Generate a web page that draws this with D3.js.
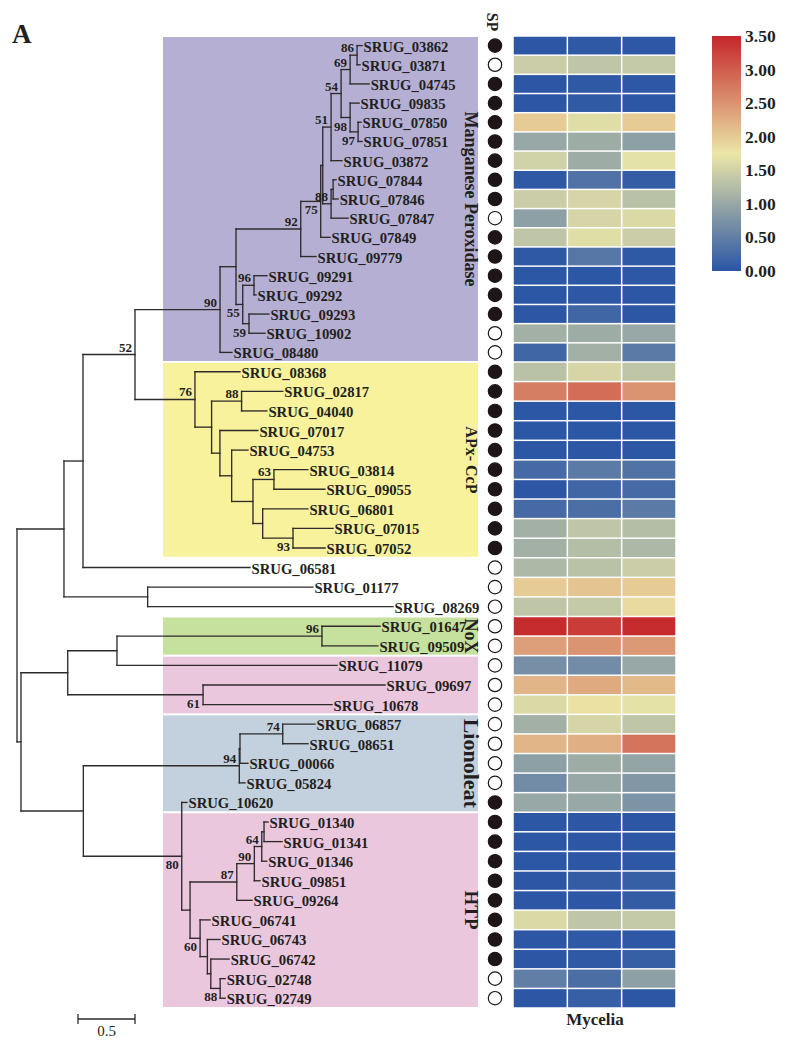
<!DOCTYPE html>
<html><head><meta charset="utf-8">
<script src="https://cdnjs.cloudflare.com/ajax/libs/d3/7.8.5/d3.min.js"></script>
<style>
body{margin:0;background:#fff}
text{font-family:"Liberation Serif","Times New Roman",serif;fill:#231f20}
</style>
</head><body>
<svg id="chart" width="791" height="1044"></svg>
<script>
// ---------------- DATA ----------------
// Phylogeny (Newick, internal names = bootstrap support, lengths = substitutions/site)
const treeNewick = `
(
 (
  (
   (
    (((((((((SRUG_03862:0.044,SRUG_03871:0.026)86:0.061,SRUG_04745:0.167)69:0.079,
         (SRUG_09835:0.079,(SRUG_07850:0.026,SRUG_07851:0.035)97:0.070)98:0.079)54:0.088,
        SRUG_03872:0.096)51:0.073,
       ((SRUG_07844:0.026,SRUG_07846:0.044):0.018,SRUG_07847:0.149)88:0.073):0.018,
      SRUG_07849:0.082)75:0.175,
     SRUG_09779:0.134)92:0.568,
     ((SRUG_09291:0.114,SRUG_09292:0.018)96:0.099,(SRUG_09293:0.175,SRUG_10902:0.140)59:0.055)55:0.059
    ):0.140,
    SRUG_08480:0.105)90:0.746,
    (SRUG_08368:0.395,
     ((SRUG_02817:0.362,SRUG_04040:0.222)88:0.263,
      (SRUG_07017:0.333,
       (SRUG_04753:0.143,
        ((SRUG_03814:0.298,SRUG_09055:0.447)63:0.184,
         (SRUG_06801:0.397,(SRUG_07015:0.351,SRUG_07052:0.281)93:0.266):0.085
        ):0.187
       ):0.103
      ):0.073
     ):0.146
    )76:0.526
   )52:0.456,
   SRUG_06581:1.465
  ):0.167,
  (SRUG_01177:1.450,SRUG_08269:2.152):0.734
 ):0.412,
 (
  (
   ((SRUG_01647:0.509,SRUG_09509:0.491)96:1.798,SRUG_11079:1.930):0.432,
   (SRUG_09697:1.596,SRUG_10678:1.132)61:1.187
  ):0.410,
  (
   (((SRUG_06857:0.283,SRUG_08651:0.222)74:0.375,SRUG_00066:0.070):0.006,SRUG_05824:0.050)94:1.368,
   (SRUG_10620:0.046,
    (
     (
      (((SRUG_01340:0.035,SRUG_01341:0.158):0.020,SRUG_01346:0.044)64:0.065,
       SRUG_09851:0.050
      )90:0.154,
      SRUG_09264:0.134
     )87:0.410,
     (SRUG_06741:0.088,(SRUG_06743:0.111,(SRUG_06742:0.161,(SRUG_02748:0.044,SRUG_02749:0.044)88:0.082):0.030):0.064)60:0.088
    ):0.073
   )80:0.863
  ):0.547
 ):0.035
);`;

// Signal peptide (1 = present / filled circle), in leaf order
const signalPeptide = [1,0,1,1,1,1,1,1,1,0,1,1,1,1,1,0,0,
                       1,1,1,1,1,1,1,1,1,1,
                       0,0,0,
                       0,0,0,0,0,
                       0,0,0,0,1,
                       1,1,1,1,1,1,1,1,0,0];

// Expression in mycelia (three replicates), in leaf order
const myceliaRep1 = [0.03,1.45,0.03,0.03,2.00,1.00,1.50,0.05,1.45,0.90,1.35,0.05,0.02,0.02,0.03,1.10,0.20,
                     1.30,2.70,0.02,0.02,0.02,0.25,0.03,0.25,1.10,1.10,
                     1.20,2.00,1.35,3.45,2.40,0.70,2.20,1.60,
                     1.10,2.20,0.90,0.65,1.00,
                     0.02,0.02,0.02,0.03,0.03,1.60,0.03,0.03,0.50,0.03];
const myceliaRep2 = [0.05,1.35,0.05,0.06,1.65,1.05,1.05,0.35,1.55,1.55,1.65,0.40,0.02,0.04,0.20,1.05,1.10,
                     1.55,2.85,0.02,0.02,0.03,0.45,0.20,0.30,1.35,1.25,
                     1.30,2.05,1.40,3.30,2.50,0.65,2.30,1.80,
                     1.55,2.25,1.05,1.00,1.00,
                     0.03,0.03,0.03,0.08,0.03,1.35,0.05,0.05,0.30,0.12];
const myceliaRep3 = [0.04,1.40,0.04,0.03,2.00,0.90,1.70,0.10,1.30,1.60,1.45,0.05,0.04,0.03,0.03,1.00,0.45,
                     1.35,2.50,0.02,0.03,0.02,0.35,0.25,0.45,1.25,1.20,
                     1.45,2.00,1.85,3.45,2.45,1.00,2.15,1.70,
                     1.35,2.80,0.95,0.80,0.75,
                     0.03,0.03,0.04,0.12,0.08,1.40,0.04,0.12,0.90,0.03];

const legendTicks = [0, 0.5, 1.0, 1.5, 2.0, 2.5, 3.0, 3.5];

// Clade boxes (first / last leaf)
const groupNames = ["Manganese Peroxidase", "APx- CcP", "NoX", "", "Lionoleat", "HTP"];
const groupFirst = ["SRUG_03862","SRUG_08368","SRUG_01647","SRUG_11079","SRUG_06857","SRUG_01340"];
const groupLast  = ["SRUG_08480","SRUG_07052","SRUG_09509","SRUG_10678","SRUG_10620","SRUG_02749"];

// ---------------- STYLE / LAYOUT ----------------
const groupColors = ["#b5afd4","#f7f29b","#c6e09d","#ebc7de","#c3d1de","#ebc7de"];
const groupFont = {"Manganese Peroxidase":18, "APx- CcP":16, "NoX":18, "Lionoleat":22, "HTP":19};
const labelBelow = new Set(["SRUG_09835|SRUG_07851","SRUG_07850|SRUG_07851","SRUG_09291|SRUG_10902",
  "SRUG_09293|SRUG_10902","SRUG_07015|SRUG_07052","SRUG_09697|SRUG_10678","SRUG_10620|SRUG_02749",
  "SRUG_06741|SRUG_02749","SRUG_02748|SRUG_02749","SRUG_03862|SRUG_07849"]);

function parseNewick(str){
  const s = str.replace(/\s+/g,'');
  let i = 0;
  function node(){
    const n = {children:[]};
    if (s[i] === '('){
      i++;
      n.children.push(node());
      while (s[i] === ','){ i++; n.children.push(node()); }
      i++;
    }
    let name = '';
    while (i < s.length && !':,();'.includes(s[i])) name += s[i++];
    n.name = name;
    n.length = 0;
    if (s[i] === ':'){
      i++; let num = '';
      while (i < s.length && !',();'.includes(s[i])) num += s[i++];
      n.length = +num;
    }
    if (!n.children.length) delete n.children;
    return n;
  }
  return node();
}

const svg = d3.select("#chart");
const rowTop = d3.scaleLinear().domain([0, 17, 50]).range([36, 362, 1008]);
const rowMid = i => (rowTop(i) + rowTop(i + 1)) / 2;
const xTree = d3.scaleLinear().domain([0, 1]).range([17, 131]);

const root = d3.hierarchy(parseNewick(treeNewick));
root.each(d => { d.dist = d.parent ? d.parent.dist + d.data.length : 0; d.x = xTree(d.dist); });
const leaves = root.leaves();
const leafIndex = new Map(leaves.map((l, i) => [l.data.name, i]));
leaves.forEach((l, i) => { l.y = rowMid(i); });
root.eachAfter(d => { if (d.children) d.y = (d.children[0].y + d.children[d.children.length - 1].y) / 2; });

// clade boxes
const gBox = svg.append("g");
groupNames.forEach((name, k) => {
  const a = leafIndex.get(groupFirst[k]), b = leafIndex.get(groupLast[k]);
  const y0 = rowTop(a) + 1, y1 = rowTop(b + 1) - 1;
  gBox.append("rect").attr("x", 163).attr("y", y0).attr("width", 315).attr("height", y1 - y0)
    .attr("fill", groupColors[k]);
});

// tree branches
const gTree = svg.append("g").attr("fill", "none").attr("stroke", "#2f2b2b")
  .attr("stroke-width", 1.35).attr("stroke-linecap", "square");
root.descendants().forEach(d => {
  if (d.parent) gTree.append("path").attr("d", `M${d.parent.x},${d.y}H${d.x}`);
  if (d.children) gTree.append("path")
    .attr("d", `M${d.x},${d.children[0].y}V${d.children[d.children.length - 1].y}`);
});

// bootstrap labels
root.descendants().filter(d => d.children && d.data.name).forEach(d => {
  const lv = d.leaves();
  const key = lv[0].data.name + "|" + lv[lv.length - 1].data.name;
  const below = labelBelow.has(key);
  svg.append("text").attr("x", d.x - 3).attr("y", below ? d.y + 13 : d.y - 3)
    .attr("text-anchor", "end").attr("font-size", 13).attr("font-weight", "bold")
    .text(d.data.name);
});

// leaf labels
leaves.forEach(l => {
  svg.append("text").attr("x", l.x + 1.5).attr("y", l.y + 1)
    .attr("dominant-baseline", "central").attr("font-size", 14.7).attr("font-weight", "bold")
    .text(l.data.name);
});

// group labels
groupNames.forEach((name, k) => {
  if (!name) return;
  const a = leafIndex.get(groupFirst[k]), b = leafIndex.get(groupLast[k]);
  const cy = (rowTop(a) + rowTop(b + 1)) / 2;
  svg.append("text").attr("transform", `translate(471,${cy}) rotate(90)`)
    .attr("text-anchor", "middle").attr("dominant-baseline", "central")
    .attr("font-size", groupFont[name]).attr("font-weight", "bold").text(name);
});

// SP column
svg.append("text").attr("transform", "translate(492,22) rotate(90)")
  .attr("text-anchor", "middle").attr("dominant-baseline", "central")
  .attr("font-size", 16).attr("font-weight", "bold").text("SP");
leaves.forEach((l, i) => {
  svg.append("circle").attr("cx", 495).attr("cy", rowMid(i)).attr("r", 6.7)
    .attr("fill", signalPeptide[i] ? "#1e1616" : "#fff")
    .attr("stroke", "#1e1616").attr("stroke-width", 1.2);
});

// heatmap
const color = d3.scaleLinear().domain([0, 1.75, 3.5]).range(["#2a55a5", "#ebe6a7", "#c5262a"]);
const reps = [myceliaRep1, myceliaRep2, myceliaRep3];
const xHeat = d3.scaleBand().domain([0, 1, 2]).range([513, 676]);
reps.forEach((vals, j) => {
  vals.forEach((v, i) => {
    svg.append("rect").attr("x", xHeat(j) + 0.75).attr("y", rowTop(i) + 0.75)
      .attr("width", xHeat.bandwidth() - 1.5).attr("height", rowTop(i + 1) - rowTop(i) - 1.5)
      .attr("fill", color(v));
  });
});
svg.append("text").attr("x", 595).attr("y", 1025).attr("text-anchor", "middle")
  .attr("font-size", 17).attr("font-weight", "bold").text("Mycelia");

// legend
const defs = svg.append("defs");
const grad = defs.append("linearGradient").attr("id", "lg").attr("x1", 0).attr("y1", 1).attr("x2", 0).attr("y2", 0);
d3.range(0, 1.0001, 0.05).forEach(t => {
  grad.append("stop").attr("offset", t).attr("stop-color", color(t * 3.5));
});
const yLeg = d3.scaleLinear().domain([0, 3.5]).range([271, 36]);
svg.append("rect").attr("x", 712).attr("y", yLeg(3.5)).attr("width", 29)
  .attr("height", yLeg(0) - yLeg(3.5)).attr("fill", "url(#lg)");
legendTicks.forEach(t => {
  svg.append("text").attr("x", 745).attr("y", yLeg(t)).attr("dominant-baseline", "central")
    .attr("font-size", 17.5).attr("font-weight", "bold").text(d3.format(".2f")(t));
});

// scale bar
const sb0 = 78, sb1 = 78 + (xTree(0.5) - xTree(0));
svg.append("path").attr("d", `M${sb0},1014V1024M${sb0},1019H${sb1}M${sb1},1014V1024`)
  .attr("stroke", "#2f2b2b").attr("stroke-width", 1.3).attr("fill", "none");
svg.append("text").attr("x", (sb0 + sb1) / 2).attr("y", 1036).attr("text-anchor", "middle")
  .attr("font-size", 15).text("0.5");

// panel letter
svg.append("text").attr("x", 12).attr("y", 43).attr("font-size", 27).attr("font-weight", "bold").text("A");
</script>
</body></html>
